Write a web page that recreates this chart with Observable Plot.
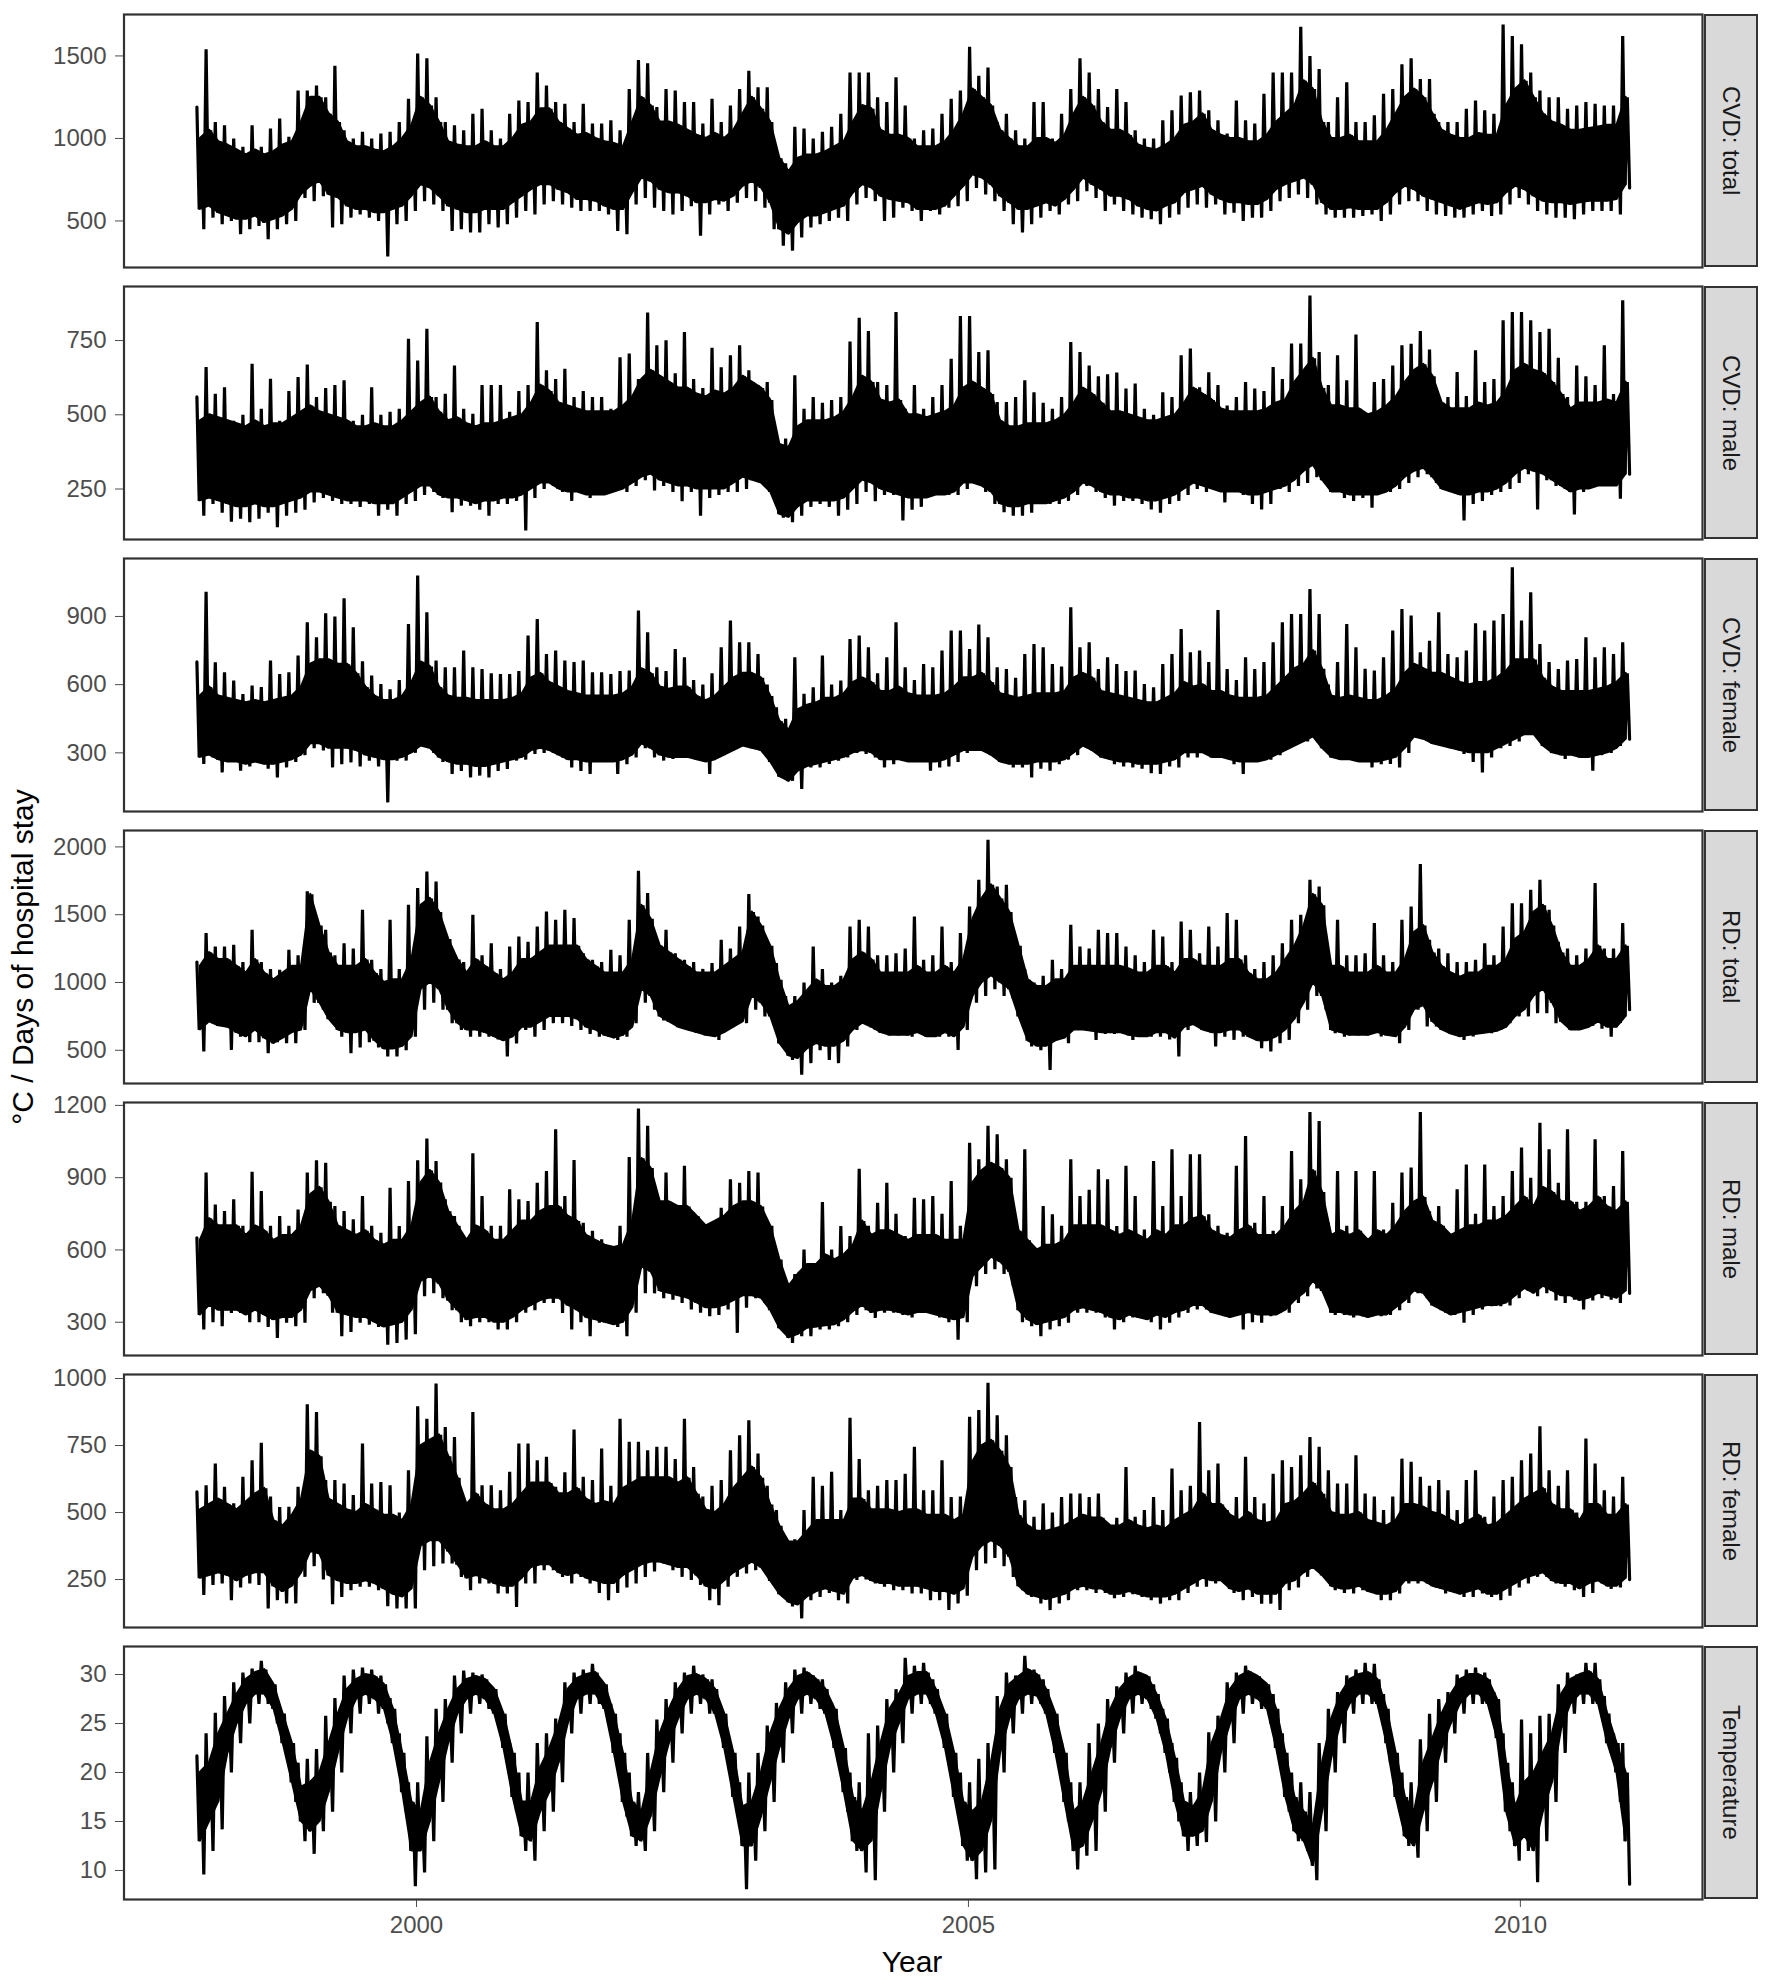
<!DOCTYPE html>
<html><head><meta charset="utf-8">
<script src="https://cdn.jsdelivr.net/npm/d3@7"></script>
<script src="https://cdn.jsdelivr.net/npm/@observablehq/plot@0.6"></script>
<style>
html,body{margin:0;padding:0;background:#fff;}
#chart{position:relative;width:1772px;height:1985px;background:#fff;font-family:"Liberation Sans",Arial,Helvetica,sans-serif;overflow:hidden;}
#chart svg{overflow:visible;position:absolute;left:0;}
.strip{position:absolute;left:1704px;width:54px;height:253px;background:#D9D9D9;border:2px solid #333;box-sizing:border-box;display:flex;align-items:center;justify-content:center;}
.strip span{writing-mode:vertical-rl;font-size:24px;color:#1A1A1A;white-space:nowrap;}
.ytitle{position:absolute;left:23px;top:957px;transform:translate(-50%,-50%) rotate(-90deg);white-space:nowrap;font-size:30px;color:#000;line-height:30px;}
.xtitle{position:absolute;left:912px;top:1947px;transform:translateX(-50%);white-space:nowrap;font-size:30px;color:#000;line-height:30px;}
</style></head><body><div id="chart"></div><script>
// ---------------- data (monthly: spike max, dense-band top, dense-band bottom, spike min) ----------------
const startYear = 1998;
const panelNames = ["CVD: total","CVD: male","CVD: female","RD: total","RD: male","RD: female","Temperature"];
const xTicks = [2000, 2005, 2010];
const yTicks = [[500,1000,1500],[250,500,750],[300,600,900],[500,1000,1500,2000],[300,600,900,1200],[250,500,750,1000],[10,15,20,25,30]];
const yDomains = [[218,1751],[80,932],[42,1155],[255,2121],[162,1212],[71,1015],[7.04,32.86]];
const xDomain = [1997.35, 2011.65];

const cvdTotalMax = [
1190,1540,1100,1080,1000,950,1080,950,1060,1120,1010,1290,
1290,1320,1250,1440,1050,1000,1040,1000,1030,1040,1100,1240,
1515,1485,1250,1100,1080,1050,1150,1180,1050,1000,1150,1230,
1220,1400,1320,1220,1210,1100,1210,1090,1090,1110,1050,1300,
1475,1455,1190,1300,1290,1220,1220,1090,1240,1100,1200,1300,
1410,1310,1310,900,850,1070,1060,1000,1040,1070,1150,1400,
1400,1400,1250,1220,1370,1200,1000,1050,1060,1150,1240,1290,
1555,1380,1430,1100,1150,1050,1000,1220,1220,1000,1150,1300,
1485,1400,1300,1190,1300,1220,1050,1000,1000,1110,1170,1260,
1280,1290,1170,1110,1030,1230,1110,1090,1270,1400,1400,1400,
1677,1500,1420,1100,1250,1340,1100,1100,1140,1270,1300,1450,
1485,1360,1360,1100,1100,1100,1180,1230,1170,1150,1690,1620,
1570,1400,1290,1250,1250,1180,1200,1220,1210,1200,1200,1620];
const cvdTotalHi = [
1000,1050,980,960,930,900,930,900,920,960,980,1100,
1250,1250,1150,1100,980,950,950,930,920,950,1000,1080,
1250,1200,1100,980,960,950,950,980,950,950,1000,1080,
1100,1180,1180,1100,1060,1020,1030,1000,980,970,950,1100,
1250,1200,1100,1100,1080,1050,1020,1000,1030,1000,1050,1150,
1250,1180,1100,880,800,880,900,900,920,950,980,1100,
1200,1180,1050,1020,1020,1000,950,950,950,980,1050,1150,
1300,1250,1200,1050,1000,950,950,1000,1000,970,1020,1150,
1250,1200,1100,1050,1050,1020,960,940,930,960,1000,1080,
1100,1150,1050,1020,1000,1000,980,980,1020,1100,1150,1200,
1350,1300,1100,1000,1000,1020,980,980,980,1050,1150,1250,
1300,1250,1150,1050,1020,1000,1000,1030,1020,1020,1200,1300,
1350,1250,1150,1100,1080,1050,1050,1060,1070,1080,1080,1250];
const cvdTotalLo = [
570,590,550,530,510,510,530,490,510,530,570,660,
710,740,660,640,590,570,570,550,550,570,590,650,
720,700,650,590,570,550,550,570,570,570,610,650,
690,720,720,690,670,630,630,620,590,570,570,670,
760,740,690,670,670,650,610,610,630,620,650,710,
740,700,610,450,420,490,530,530,550,570,590,670,
720,700,650,630,620,610,570,570,570,590,650,710,
780,760,720,650,610,570,570,590,610,590,630,690,
760,720,690,650,650,630,590,570,560,590,610,670,
690,710,660,630,610,610,600,600,630,690,720,740,
760,720,610,570,570,580,570,570,570,610,670,710,
690,650,630,610,590,570,590,610,600,610,670,710,
690,650,620,610,610,600,610,620,620,620,630,720];
const cvdTotalMin = [
450,520,480,500,420,450,470,390,450,480,500,640,
620,650,460,480,520,540,520,500,285,480,500,560,
620,600,560,440,450,430,430,480,460,480,520,560,
540,600,620,600,580,560,560,560,540,440,420,600,
640,580,560,540,560,590,410,540,600,560,610,640,
620,580,450,350,320,400,460,480,500,520,500,600,
640,620,500,520,580,560,500,560,540,580,590,620,
700,660,620,560,480,430,480,520,560,540,600,620,
680,640,560,600,560,540,520,510,480,520,540,580,
600,580,600,540,550,500,520,520,560,620,640,660,
640,600,540,520,520,520,530,540,500,540,600,620,
620,560,540,530,520,520,540,560,530,540,600,640,
600,560,540,520,520,510,540,560,560,560,540,700];

const cvdMaleMax = [
560,661,571,593,480,500,672,520,621,480,580,627,
669,560,590,600,616,480,500,593,500,510,520,756,
683,790,560,571,666,520,503,600,600,600,510,580,
600,812,650,620,655,560,580,560,560,520,694,706,
620,844,734,751,640,779,620,590,726,660,700,734,
650,600,610,420,420,633,520,560,540,550,560,747,
827,782,610,600,846,520,600,520,560,600,689,833,
833,711,717,543,543,560,616,576,540,520,560,745,
711,666,630,636,642,588,605,520,500,576,560,700,
723,593,643,600,531,560,610,588,580,661,620,740,
740,902,711,600,700,616,770,500,610,620,666,734,
739,782,720,540,560,644,563,717,610,620,818,846,
846,818,779,790,692,560,666,630,600,734,570,886];
const cvdMaleHi = [
480,500,490,480,470,460,480,460,470,470,490,510,
530,510,500,490,480,460,460,470,460,460,480,510,
540,560,510,480,490,470,460,470,470,480,490,500,
540,600,580,540,530,520,510,510,510,510,530,560,
620,650,630,610,590,590,570,560,580,570,590,630,
610,590,550,400,390,460,480,480,480,490,510,560,
630,610,550,540,550,500,500,490,500,510,530,590,
610,590,570,480,460,460,470,470,470,480,500,540,
590,570,540,510,510,500,490,480,480,490,500,540,
590,570,550,520,510,510,510,510,520,540,550,610,
650,690,590,530,530,520,520,500,510,530,560,610,
650,670,630,540,520,520,520,540,530,540,580,650,
670,650,640,610,570,520,540,540,540,550,540,610];
const cvdMaleLo = [
210,220,210,200,190,190,200,190,190,200,210,220,
240,240,230,220,210,210,210,200,200,200,220,240,
260,260,230,220,220,210,200,210,210,220,220,230,
250,270,270,250,240,240,230,230,230,240,250,270,
290,300,280,270,260,260,250,250,250,250,270,290,
280,270,240,165,155,190,210,210,210,210,220,250,
280,270,250,240,230,220,220,220,230,230,240,270,
270,260,240,200,190,190,200,200,200,210,220,240,
270,260,240,230,230,220,220,210,210,220,230,250,
270,260,250,240,240,240,230,230,240,250,260,280,
310,330,280,240,240,230,230,230,230,240,260,290,
310,320,290,250,240,230,230,240,240,250,270,300,
320,310,300,280,260,240,250,250,260,260,260,300];
const cvdMaleMin = [
160,200,170,140,150,138,150,170,121,160,170,180,
205,220,210,200,200,190,200,160,180,160,200,210,
230,240,220,172,194,194,180,160,200,200,210,110,
220,250,260,240,210,250,220,230,240,250,240,260,
280,245,260,240,209,240,160,220,230,240,240,250,
280,270,220,153,138,160,190,200,190,160,180,200,
240,209,230,230,144,180,190,230,240,230,230,250,
270,240,200,172,160,160,170,200,200,200,210,230,
260,240,220,194,210,210,200,181,170,200,210,230,
250,240,250,205,240,230,200,181,200,250,240,260,
270,290,284,240,220,210,220,187,240,240,250,270,
290,300,270,260,240,144,200,210,230,240,250,270,
300,181,280,260,250,164,240,260,270,260,217,300];

const cvdFemaleMax = [
700,1009,698,654,618,559,596,590,706,647,654,728,
874,808,914,900,980,852,703,640,603,580,620,867,
1080,918,706,676,676,750,676,669,650,647,647,660,
816,889,735,750,706,700,706,654,654,647,660,662,
926,830,676,660,757,720,620,600,650,764,882,786,
786,735,600,500,450,720,560,588,728,600,618,801,
816,764,650,720,874,676,620,691,676,750,838,838,
757,864,808,676,669,630,735,779,764,691,680,940,
764,786,669,720,691,660,662,603,588,691,735,845,
742,750,700,928,669,620,720,669,700,786,874,911,
911,1021,911,600,700,867,764,670,662,720,838,933,
904,742,793,918,735,720,750,870,838,882,911,1116,
882,1006,779,700,669,706,713,808,720,764,735,786];
const cvdFemaleHi = [
550,590,550,540,530,520,530,520,530,540,550,590,
690,710,710,690,690,650,590,550,530,530,550,610,
700,680,590,550,540,540,530,530,530,530,540,560,
630,650,610,590,570,560,550,550,550,550,560,590,
670,650,590,580,590,590,550,530,550,590,630,650,
650,630,550,440,400,490,510,520,540,540,560,610,
630,610,570,570,590,560,550,550,550,560,590,630,
630,650,610,560,550,540,550,560,560,560,570,630,
650,630,570,560,550,540,530,520,520,540,560,610,
590,600,570,570,550,540,540,540,550,590,630,670,
690,750,670,550,540,550,540,530,530,550,580,650,
690,670,650,650,630,610,600,610,610,630,660,710,
710,710,630,590,570,570,570,570,580,590,610,650];
const cvdFemaleLo = [
280,290,270,260,260,250,260,250,250,260,270,290,
340,340,320,320,320,310,290,280,270,270,280,300,
330,320,280,260,250,250,240,240,250,260,270,280,
310,320,310,290,270,270,260,260,260,260,270,290,
340,320,290,280,280,280,270,260,270,290,310,330,
320,310,260,195,175,220,240,250,260,270,280,300,
310,300,270,270,270,260,260,260,260,270,290,310,
310,310,290,260,250,250,250,260,260,260,270,300,
330,310,280,270,260,260,250,250,250,260,270,300,
300,300,280,280,270,260,260,260,270,290,310,330,
350,370,320,280,270,270,260,260,260,270,280,320,
370,360,340,330,320,310,300,300,300,320,340,360,
380,380,330,300,290,290,280,280,290,300,320,360];
const cvdFemaleMin = [
251,280,214,260,221,240,260,230,192,236,260,290,
320,310,236,250,258,240,266,240,82,266,266,300,
330,300,260,207,220,192,200,192,220,229,266,270,
295,300,300,280,236,220,207,270,270,207,250,280,
320,280,266,273,280,295,270,207,280,300,320,340,
330,320,270,200,177,141,236,236,251,266,280,300,
295,280,236,250,266,270,270,221,236,240,260,300,
320,310,290,258,236,236,192,230,221,250,270,290,
340,300,280,250,240,236,230,210,207,240,236,280,
280,295,280,280,250,207,260,270,270,290,320,340,
350,360,320,290,280,280,270,236,250,251,236,300,
380,370,354,340,320,295,260,214,280,320,330,350,
383,380,330,300,273,295,280,221,290,300,330,360];

const rdTotalMax = [
1150,1364,1266,1266,1278,1150,1389,1150,1100,1093,1241,1200,
1672,1413,1389,1200,1290,1250,1536,1167,1100,1462,1100,1573,
1696,1819,1745,1290,1118,1150,1499,1200,1290,1100,1266,1339,
1300,1413,1524,1462,1536,1475,1216,1167,1150,1241,1200,1462,
1824,1659,1290,1389,1216,1167,1150,1100,1143,1315,1250,1413,
1652,1487,1290,1143,900,900,1000,1266,1100,1000,1050,1413,
1462,1413,1200,1200,1216,1250,1487,1167,1200,1413,1150,1364,
1561,1758,2053,1708,1721,1290,1100,1000,1050,1167,1100,1426,
1266,1250,1389,1364,1364,1266,1200,1150,1389,1339,1150,1450,
1389,1216,1413,1266,1512,1462,1200,1100,1150,1200,1290,1462,
1500,1758,1708,1200,1462,1200,1200,1216,1438,1200,1150,1462,
1561,1873,1315,1250,1216,1150,1150,1167,1290,1200,1413,1585,
1585,1684,1758,1536,1300,1250,1200,1250,1733,1250,1250,1438];
const rdTotalHi = [
1120,1220,1170,1170,1120,1070,1170,1070,1020,1070,1120,1120,
1650,1420,1220,1120,1120,1120,1170,1070,1000,1020,1020,1170,
1570,1620,1520,1320,1170,1070,1170,1120,1070,1020,1070,1170,
1170,1220,1270,1270,1270,1270,1170,1120,1070,1070,1070,1170,
1570,1470,1270,1220,1170,1120,1070,1070,1070,1120,1170,1220,
1520,1420,1270,1020,820,860,940,1020,970,970,1020,1170,
1220,1170,1070,1070,1070,1070,1120,1070,1070,1120,1070,1170,
1470,1620,1720,1620,1520,1270,1020,970,970,1020,1020,1120,
1120,1120,1120,1120,1120,1100,1070,1070,1120,1120,1070,1170,
1170,1120,1120,1120,1170,1170,1070,1020,1020,1070,1170,1270,
1420,1650,1570,1120,1120,1070,1070,1070,1120,1070,1070,1170,
1370,1420,1220,1120,1070,1040,1070,1070,1120,1120,1170,1320,
1370,1520,1570,1420,1220,1120,1120,1170,1270,1170,1170,1270];
const rdTotalLo = [
650,710,680,670,630,600,650,590,550,590,630,650,
950,850,730,650,630,630,650,570,510,510,530,600,
950,1000,950,800,700,650,650,630,600,570,600,670,
670,710,750,750,750,730,670,650,610,590,610,670,
950,900,750,710,670,650,630,610,600,630,670,710,
900,850,750,550,460,440,510,550,530,530,570,650,
700,670,630,610,610,610,630,600,600,630,600,670,
900,1000,1050,1000,950,750,570,530,530,570,590,650,
650,640,630,630,630,610,600,600,630,630,590,670,
690,650,630,630,650,650,600,570,570,600,650,730,
850,1000,900,650,630,610,610,610,630,610,600,670,
800,830,710,650,620,600,610,620,630,640,670,750,
800,900,950,850,710,650,650,670,710,670,670,750];
const rdTotalMin = [
491,700,680,503,600,560,560,478,560,552,552,650,
850,800,700,600,478,520,560,520,454,454,500,600,
800,850,800,700,650,600,600,600,580,454,550,650,
600,650,700,700,680,650,620,600,602,577,600,700,
850,800,720,720,700,650,626,620,577,650,700,700,
800,750,700,550,429,319,405,500,429,405,528,650,
700,650,650,640,620,600,620,600,600,600,503,650,
850,900,950,900,880,774,528,500,355,600,552,650,
650,577,620,620,626,577,600,600,600,580,454,650,
700,680,528,600,577,600,600,515,491,552,577,700,
800,900,800,626,600,626,651,620,602,626,552,650,
800,675,675,650,620,577,602,626,626,650,700,750,
750,774,774,700,700,650,690,680,659,600,700,800];

const rdMaleMax = [
650,921,789,762,810,700,924,845,700,741,700,768,
921,972,962,782,762,727,824,700,671,858,699,886,
972,1063,969,810,741,640,1001,824,700,700,852,810,
803,879,928,1101,824,973,713,680,644,600,700,986,
1187,1115,782,921,782,949,755,630,700,775,893,879,
928,921,685,600,436,500,602,519,799,602,699,658,
937,700,796,879,750,658,817,810,824,750,886,700,
1045,976,1115,1080,976,700,1018,602,782,748,700,976,
824,850,935,893,699,949,824,685,969,782,1018,824,
997,997,748,700,671,949,1073,713,824,680,782,1011,
893,1173,1135,713,928,700,928,600,928,685,796,921,
942,1173,760,782,650,852,955,750,955,782,824,928,
1025,900,1128,1018,879,1101,800,800,1059,824,865,1011];
const rdMaleHi = [
640,730,700,700,700,660,700,680,640,660,660,700,
830,860,800,700,680,660,680,640,620,640,640,700,
880,930,880,760,700,640,700,680,640,640,680,720,
720,760,780,780,740,720,660,640,620,610,620,720,
980,940,800,800,780,780,740,700,720,740,780,800,
800,780,700,560,450,500,540,540,580,560,580,620,
720,660,680,680,660,640,660,660,660,640,640,640,
880,930,960,940,900,680,640,600,620,620,640,700,
700,700,700,680,660,680,660,640,680,660,700,700,
730,740,680,660,650,680,700,660,660,660,700,760,
800,930,840,660,680,660,680,640,680,660,700,760,
800,820,720,700,660,680,700,700,720,720,740,780,
820,780,860,840,800,800,760,780,820,780,760,800];
const rdMaleLo = [
330,370,350,350,350,330,350,330,310,320,320,350,
430,450,410,340,330,320,320,300,280,290,300,350,
470,490,460,390,350,310,320,320,300,300,320,350,
370,390,400,400,370,350,320,310,300,290,300,360,
530,510,430,420,410,400,380,360,360,370,390,410,
410,400,350,275,235,250,275,280,285,290,310,345,
370,340,350,350,340,330,340,340,330,320,310,320,
490,530,570,550,510,350,310,290,300,310,320,350,
360,350,340,320,310,330,320,310,330,320,340,350,
370,370,340,330,320,330,340,330,330,330,350,390,
420,470,430,340,340,330,330,320,330,330,360,390,
430,420,370,350,330,340,350,360,370,370,380,410,
440,420,450,430,410,410,390,400,420,410,400,430];
const rdMaleMin = [
270,300,284,339,339,300,300,280,235,298,284,298,
400,420,340,242,260,298,290,280,207,214,228,250,
408,420,400,350,300,284,300,300,270,270,300,340,
350,380,380,339,270,300,242,298,300,280,242,340,
420,420,400,394,380,353,340,325,330,353,256,360,
400,380,340,270,214,242,242,270,270,284,300,330,
350,318,340,340,330,320,340,339,320,300,228,300,
450,500,520,500,450,300,284,242,270,284,298,340,
340,340,320,270,300,320,320,300,270,298,320,339,
353,353,339,325,339,270,300,298,325,340,340,380,
408,440,420,330,330,320,325,325,325,330,350,380,
420,400,367,340,330,298,330,353,367,367,370,400,
430,408,420,390,380,394,353,390,400,394,380,420];

const rdFemaleMax = [
577,602,683,596,534,633,695,760,560,520,521,596,
904,875,621,621,608,565,757,608,614,602,500,658,
896,850,981,819,782,534,875,602,602,583,652,757,
757,695,708,596,650,810,633,621,739,600,850,764,
764,732,745,745,700,850,670,560,600,621,732,788,
844,720,600,509,372,400,509,633,600,652,509,854,
700,583,600,621,621,645,745,583,583,695,558,560,
857,882,984,863,788,558,546,484,534,500,558,571,
571,558,571,459,480,670,484,509,558,509,664,583,
600,838,658,683,509,558,708,558,534,645,695,670,
714,782,745,658,608,608,714,571,560,509,560,701,
689,633,600,621,583,509,621,658,484,560,621,633,
695,720,822,658,600,658,500,776,683,583,560,633];
const rdFemaleHi = [
510,530,550,530,510,540,570,590,470,450,490,550,
730,710,550,530,510,500,530,510,490,490,470,530,
750,770,790,710,630,530,570,530,510,510,530,570,
610,610,610,570,570,590,550,530,540,530,590,610,
630,630,630,630,610,630,570,510,500,530,590,630,
670,630,530,450,390,390,430,470,470,470,470,550,
550,510,510,510,500,510,510,490,490,490,470,490,
690,750,770,730,670,490,450,430,430,440,450,470,
490,480,480,450,450,470,450,440,450,440,470,490,
510,570,530,530,490,470,500,470,460,470,530,540,
570,610,570,500,490,490,500,470,460,450,470,530,
530,520,500,490,470,450,470,490,450,460,490,520,
550,570,590,530,510,510,470,530,530,490,490,530];
const rdFemaleLo = [
255,265,275,265,245,265,275,275,225,205,225,275,
355,345,265,245,235,235,245,235,215,195,185,215,
375,395,395,355,305,255,265,255,235,225,225,255,
295,305,305,275,265,275,255,245,235,235,265,285,
305,315,315,305,295,295,265,225,215,245,275,295,
315,295,245,195,165,155,185,205,215,205,195,255,
265,245,235,235,225,225,225,215,205,205,195,215,
335,375,395,375,335,225,195,185,175,185,195,215,
225,215,215,195,195,205,195,185,185,185,195,215,
235,255,245,245,215,205,215,195,195,195,235,245,
275,295,265,225,215,215,225,205,195,195,205,245,
245,245,225,215,205,195,205,215,195,195,215,235,
255,265,275,245,235,235,215,235,245,225,225,255];
const rdFemaleMin = [
192,230,235,173,220,235,230,142,173,161,161,260,
300,250,158,185,210,223,223,210,150,142,142,142,
285,300,310,310,260,210,235,235,198,198,148,235,
235,285,285,260,235,260,235,200,173,200,220,235,
260,280,310,285,260,248,230,173,154,223,260,273,
285,285,230,185,150,105,173,185,200,173,161,248,
250,235,223,210,210,198,198,173,173,136,161,190,
285,310,330,300,260,210,185,161,136,161,173,210,
210,200,200,180,185,195,185,173,160,173,173,200,
223,223,235,235,200,173,185,160,160,136,210,220,
260,285,260,210,200,198,210,200,173,173,198,235,
235,235,220,198,200,185,185,198,185,173,190,220,
235,260,260,235,223,210,185,200,235,215,220,250];

const tempMax = [
21.7,24,26.1,27.8,29.2,30.2,30.6,31.4,29.2,26.5,23.7,21,
21.4,22.4,25.8,27.6,29.9,30.5,30.7,30.5,29.9,27.6,24,19,
19,23.7,26.5,27.5,29.9,30.4,30.2,30,28.5,26.5,23,20,
20,23,24,25.5,29.2,30.2,30.5,31.1,29.2,27,24,20,
18,22,25.4,27.5,29.2,30.2,30.9,30,29.5,26.5,23,19,
20,22,24.8,27.1,29.2,30.5,30.7,29.9,29.5,27.1,23,20,
19,24,24.8,27.5,28.5,31.7,30.9,31.2,29.5,26.5,23,20,
19,21.4,23,27.8,30.2,29.9,31.9,30.5,29.5,26.5,23,19,
19,23,25,27.5,28.8,30.2,30.9,30,29,26.5,23,19,
18,20,24.1,25.8,29.2,30.2,30.9,29.6,29.2,28,24,20,
19,18,23,26.5,28.2,29.9,30.5,31.2,31.1,28,22.7,20,
19,23.4,26,27.5,28.2,30,30.5,30.7,30.2,28.2,24,19,
25.4,24,25.8,26,29,30.2,30,31.2,31.2,27.8,24,23];
const tempHi = [
20,21,24,26,28,29.5,30.2,30.5,29,26,23,18.5,
19,20,23,26,28.5,29.5,30,29.8,29,26.5,22,17,
16,21,24,26.5,28.5,29.5,29.8,29.5,28.5,26,22,17,
17,20.5,22.5,25,28.5,29.6,30,30.2,29,26,22,17,
16,20,24,26.5,28.5,29.8,30,29.5,28.5,26,22,16.5,
17,20,24,26.5,28.5,29.8,30.2,29.5,28.5,26.5,22.5,17.5,
16,19,23,26.5,28,29.8,30.2,30.2,28.5,26,22,17,
16,17,21,26.5,29,29.8,30.5,30,28.5,26,22,16,
17,20,23,26.5,28.5,29.6,30.2,29.8,28,25.5,21.5,17,
16.5,18,23,25.5,28.5,29.8,30.3,29.8,29,26.5,22,17.5,
16,14.5,21,25.5,28,29.5,30,30.2,29.5,26.5,22,17.5,
16,21,23.5,26,28,29.5,30,30,29.5,27.5,21,16.5,
19,20,22,24,28,29.5,30,30.3,29.5,26,23,20];
const tempLo = [
13,15,17,22,25,27,28,28,26.5,23,19,15,
14,15,18,22,25.5,27.5,28,27.5,26.5,23,18,12,
12,15,19,23,26,27.5,28,27.5,26,22.5,17.5,13.5,
13,16,18,21,25,27.5,28,28,26.5,22,17,13.5,
13,15.5,19.5,23,25.5,27.5,28,27.5,26,22.5,17.5,12.5,
12.5,15.5,19,22.5,25.5,27.5,28,27.5,26,22.5,18,13,
12,13,18,22.5,25,27.5,28,28,26,22.5,17.5,12.5,
11,12,15,22,25.5,27.5,28,27.8,26,22,17,12,
12.5,15,18,22.5,25.5,27.5,28,27.5,25.5,22,17,13.5,
13.5,14,17,22,25,27.5,28,27.5,26.5,22.5,17.5,14,
13,10.5,16,21.5,25,27,28,28,27,23,17.5,13.5,
12.5,16,19,22.5,25,27,28,28,27,23.5,16,12.5,
13.5,12,16,19,24.5,27,28,28,27,23,20,13];
const tempMin = [
9.6,12,14.2,20,23,25,27,27,25,22,17,13,
11.7,14,16,20,24,26,27,26,25,22,16,8.4,
9.8,13,17,21,24,26,27,26.5,25,21,16,12,
11,14,16,19,24,26,27,27,25,21,15.5,12.5,
12,14,18,21,24,26,27,26,25,21,16,8.1,
11,14,17,21,24,26,27,26.5,25,21,16,12,
9.8,9,16,20,23,26,27,27,25,21,16,11,
9.1,9.8,10.1,20,24,26,27,27,25,21,15,10.1,
11.5,12,16,21,24,26,27,26.5,24,20,15,12,
12.5,12.9,15,20,23,26,27,26.5,25,21,16,13,
12,9,14,20,23,26,27,27,26,21,16,12.5,
11.3,14,17,21,24,26,27,27,26,22,14,11,
12,8.8,13,17,22,26,27,27,26,22,17,8.6];

const seriesData = [
  [cvdTotalMax, cvdTotalHi, cvdTotalLo, cvdTotalMin],
  [cvdMaleMax, cvdMaleHi, cvdMaleLo, cvdMaleMin],
  [cvdFemaleMax, cvdFemaleHi, cvdFemaleLo, cvdFemaleMin],
  [rdTotalMax, rdTotalHi, rdTotalLo, rdTotalMin],
  [rdMaleMax, rdMaleHi, rdMaleLo, rdMaleMin],
  [rdFemaleMax, rdFemaleHi, rdFemaleLo, rdFemaleMin],
  [tempMax, tempHi, tempLo, tempMin]
];

// ---------------- drawing ----------------
const chart = document.getElementById("chart");
const panelTop0 = 14.3, panelStep = 272, panelH = 253;

seriesData.forEach(([mx, hi, lo, mn], i) => {
  const last = i === seriesData.length - 1;
  const mt = 12, mb = last ? 70 : 12;
  const top = panelTop0 + panelStep * i;
  const band = hi.map((h, k) => ({t: startYear + (k + 0.5) / 12, hi: h, lo: lo[k]}));
  // each month: spike up, band bottom, band top, spike down
  const zig = mx.flatMap((v, k) => [
    {t: startYear + (k + 0.125) / 12, v: v},
    {t: startYear + (k + 0.375) / 12, v: lo[k]},
    {t: startYear + (k + 0.625) / 12, v: hi[k]},
    {t: startYear + (k + 0.875) / 12, v: mn[k]}
  ]);
  const svg = Plot.plot({
    width: 1772,
    height: panelH + mt + mb,
    marginLeft: 123.5,
    marginRight: 70,
    marginTop: mt,
    marginBottom: mb,
    style: {fontFamily: '"Liberation Sans", Arial, Helvetica, sans-serif', fontSize: "24px", color: "#4D4D4D", background: "transparent", overflow: "visible"},
    x: last
      ? {domain: xDomain, ticks: xTicks, tickFormat: d => String(d), tickSize: 8, tickPadding: 8, label: null}
      : {domain: xDomain, axis: null},
    y: {domain: yDomains[i], ticks: yTicks[i], tickFormat: d => String(d), tickSize: 8.5, tickPadding: 9, label: null},
    marks: [
      Plot.areaY(band, {x: "t", y1: "lo", y2: "hi", fill: "#000", stroke: "#000", strokeWidth: 2}),
      Plot.line(zig, {x: "t", y: "v", stroke: "#000", strokeWidth: 3.2, strokeLinejoin: "miter", strokeMiterlimit: 2}),
      Plot.frame({stroke: "#333", strokeWidth: 2.2})
    ]
  });
  svg.style.top = (top - mt) + "px";
  chart.append(svg);

  const strip = document.createElement("div");
  strip.className = "strip";
  strip.style.top = top + "px";
  const sp = document.createElement("span");
  sp.textContent = panelNames[i];
  strip.append(sp);
  chart.append(strip);
});

const yt = document.createElement("div");
yt.className = "ytitle";
yt.textContent = "°C / Days of hospital stay";
chart.append(yt);
const xt = document.createElement("div");
xt.className = "xtitle";
xt.textContent = "Year";
chart.append(xt);
</script></body></html>
